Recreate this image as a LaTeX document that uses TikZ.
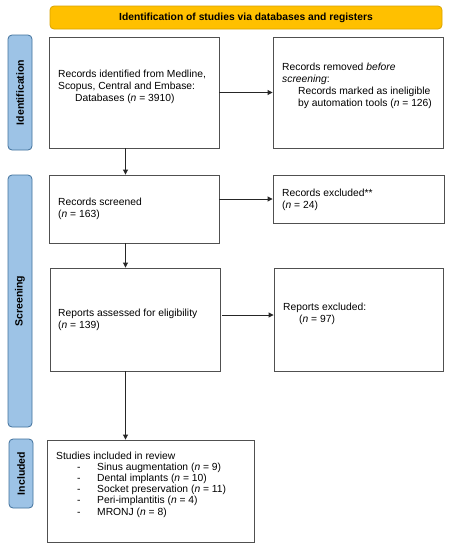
\documentclass[tikz,border=0pt]{standalone}
\usepackage{fontspec}
\setmainfont{Liberation Sans}
\usetikzlibrary{arrows.meta,calc}
\definecolor{hdrfill}{HTML}{FFC000}
\definecolor{hdrdraw}{HTML}{D9A300}
\definecolor{sidefill}{HTML}{9DC3E6}
\definecolor{sidedraw}{HTML}{41719C}
\definecolor{boxdraw}{HTML}{505050}
\tikzset{
  box/.style={draw=boxdraw, line width=0.9pt, fill=white, inner sep=0pt},
  txt/.style={anchor=west, align=left, inner sep=0pt, font=\fontsize{10.3}{12}\selectfont},
  side/.style={draw=sidedraw, fill=sidefill, line width=0.8pt, rounded corners=4pt, inner sep=0pt},
  sidetxt/.style={rotate=90, font=\fontsize{10.5}{12}\selectfont\bfseries, inner sep=0pt},
  arr/.style={draw=black!85, line width=0.9pt, -{Triangle[length=5pt,width=5pt]}},
}
\begin{document}
\begin{tikzpicture}[x=1pt,y=-1pt]
\useasboundingbox (0,0) rectangle (450,550);
\fill[white] (0,0) rectangle (450,550);
% header
\draw[draw=hdrdraw, fill=hdrfill, line width=0.8pt, rounded corners=4pt] (50,6) rectangle (442,29);
\node[font=\fontsize{10.3}{12}\selectfont\bfseries, inner sep=0pt] (hdr) at (246,17.5) {Identification of studies via databases and registers};
% side labels
\draw[side] (8,35) rectangle (32,150);
\node[sidetxt] (sid) at (20,92.5) {Identification};
\draw[side] (8,175) rectangle (32,427);
\node[sidetxt] (ssc) at (20,301) {Screening};
\draw[side] (9,439) rectangle (33,508);
\node[sidetxt] (sin) at (21,473.5) {Included};
% boxes
\node[box, minimum width=170pt, minimum height=111pt] (b1) at (134,92.5) {};
\node[box, minimum width=170pt, minimum height=111pt] (b2) at (358,92.5) {};
\node[box, minimum width=170pt, minimum height=68pt] (b3) at (134,209) {};
\node[box, minimum width=171pt, minimum height=48pt] (b4) at (358.5,199) {};
\node[box, minimum width=170pt, minimum height=103pt] (b5) at (135,319.5) {};
\node[box, minimum width=169pt, minimum height=103pt] (b6) at (358.5,319.5) {};
\node[box, minimum width=207pt, minimum height=102pt] (b7) at (150.5,491) {};
% texts
\node[txt] (t1) at (58,87) {Records identified from Medline,\\Scopus, Central and Embase:\\\hspace*{17pt}Databases (\textit{n} = 3910)};
\node[txt] (t2) at (282,86) {Records removed \textit{before}\\\textit{screening}:\\\hspace*{16pt}Records marked as ineligible\\\hspace*{16pt}by automation tools (\textit{n} = 126)};
\node[txt] (t3) at (58,209) {Records screened\\(\textit{n} = 163)};
\node[txt] (t4) at (282,199.5) {Records excluded**\\(\textit{n} = 24)};
\node[txt] (t5) at (58,320) {Reports assessed for eligibility\\(\textit{n} = 139)};
\node[txt] (t6) at (283,314) {Reports excluded:\\\hspace*{16pt}(\textit{n} = 97)};
\node[txt, font=\fontsize{10.3}{11.2}\selectfont] (t7) at (56,484.5) {Studies included in review\\
\hspace*{21pt}\makebox[20pt][l]{-}Sinus augmentation (\textit{n} = 9)\\
\hspace*{21pt}\makebox[20pt][l]{-}Dental implants (\textit{n} = 10)\\
\hspace*{21pt}\makebox[20pt][l]{-}Socket preservation (\textit{n} = 11)\\
\hspace*{21pt}\makebox[20pt][l]{-}Peri-implantitis (\textit{n} = 4)\\
\hspace*{21pt}\makebox[20pt][l]{-}MRONJ (\textit{n} = 8)};
% connectors
\coordinate (cx) at (125.5,0);
\coordinate (ry) at (0,315);
\draw[arr] (b1.east) -- (b2.west);
\draw[arr] (b1.south -| cx) -- (b3.north -| cx);
\draw[arr] (b3.east |- b4.west) -- (b4.west);
\draw[arr] (b3.south -| cx) -- (b5.north -| cx);
\draw[arr] ([xshift=2pt]b5.east |- ry) -- (b6.west |- ry);
\draw[arr] (b5.south -| cx) -- (b7.north -| cx);
\end{tikzpicture}
\end{document}
